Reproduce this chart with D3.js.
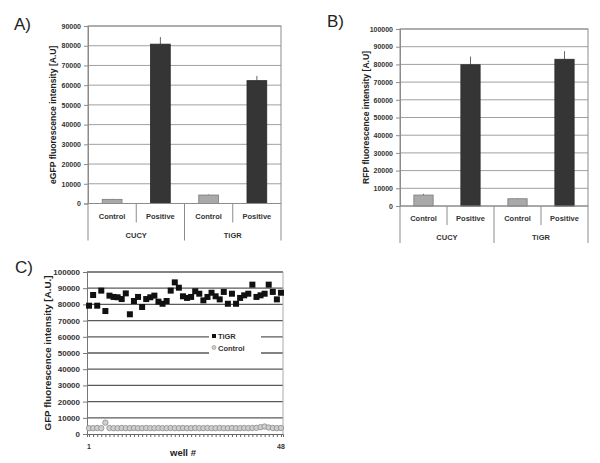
<!DOCTYPE html>
<html>
<head>
<meta charset="utf-8">
<script src="https://cdn.jsdelivr.net/npm/d3@7"></script>
<style>
  body { margin: 0; background: #fff; }
  text { font-family: "Liberation Sans", Arial, sans-serif; }
</style>
</head>
<body>
<svg id="fig"></svg>
<script>
// ---- data ----
const groups = ["CUCY", "TiGR"];
const conditions = ["Control", "Positive"];

const egfpMean = [2100, 80800, 4300, 62300];
const egfpErr = [250, 3600, 300, 2400];
const egfpTicks = [0, 10000, 20000, 30000, 40000, 50000, 60000, 70000, 80000, 90000];

const rfpMean = [6200, 79800, 4100, 82900];
const rfpErr = [700, 4600, 300, 4600];
const rfpTicks = [0, 10000, 20000, 30000, 40000, 50000, 60000, 70000, 80000, 90000, 100000];

const gfpTicks = [0, 10000, 20000, 30000, 40000, 50000, 60000, 70000, 80000, 90000, 100000];
const wells = d3.range(1, 49);
const wellLabels = [1, 48];
const tigr = [79200, 85800, 79200, 88500, 75900, 85400, 84600, 84400, 83300, 86800,
              73900, 82100, 84600, 78400, 83300, 84400, 85400, 81700, 80400, 82100,
              88500, 93600, 90300, 85000, 84000, 84600, 88100, 86600, 82500, 84600,
              87200, 85000, 83100, 87700, 80400, 86600, 80400, 84000, 85600, 86600,
              92200, 84600, 85600, 86600, 92200, 87700, 83100, 87200];
const control = [3600, 3600, 3700, 3600, 7000, 3700, 3600, 3600, 3700, 3600,
                 3600, 3700, 3600, 3600, 3700, 3600, 3600, 3700, 3600, 3600,
                 3700, 3600, 3600, 3700, 3600, 3600, 3700, 3600, 3600, 3700,
                 3600, 3600, 3700, 3600, 3600, 3700, 3600, 3600, 3700, 3600,
                 3700, 3800, 4200, 4600, 4000, 3700, 3600, 3700];

const svg = d3.select("#fig")
    .attr("width", 600)
    .attr("height", 463);

svg.append("rect").attr("width", 600).attr("height", 463).attr("fill", "#fff");

// ---- bar panels (A, B) ----
function barPanel(o) {
    const g = svg.append("g");
    const keys = [];
    groups.forEach(gr => conditions.forEach(c => keys.push(gr + "|" + c)));

    const x = d3.scaleBand().domain(keys).range([o.left, o.right]);
    const y = d3.scaleLinear().domain([0, d3.max(o.ticks)]).range([o.bottom, o.top]);

    // grid
    g.selectAll(".grid")
        .data(o.ticks.filter(t => t > 0))
        .join("line")
            .attr("x1", o.left).attr("x2", o.right)
            .attr("y1", d => y(d)).attr("y2", d => y(d))
            .attr("stroke", "#a0a0a0").attr("stroke-width", 1);

    g.append("rect")
        .attr("x", o.left).attr("y", o.top)
        .attr("width", o.right - o.left).attr("height", o.bottom - o.top)
        .attr("fill", "none").attr("stroke", "#8c8c8c");

    const yAxis = g.append("g")
        .attr("transform", `translate(${o.left},0)`)
        .call(d3.axisLeft(y).tickValues(o.ticks).tickSize(4).tickPadding(3).tickFormat(d3.format("d")));
    yAxis.selectAll("line, path").attr("stroke", "#8c8c8c");
    yAxis.selectAll("text")
        .attr("font-size", 7).attr("font-weight", "bold").attr("fill", "#333")
        .attr("font-family", "'Liberation Sans', Arial, sans-serif");

    const bw = x.bandwidth() * 0.41;
    const bars = g.selectAll(".bar")
        .data(keys.map((k, i) => ({ k, v: o.means[i], e: o.errs[i], c: k.split("|")[1] })))
        .join("g");

    // error bars (only the upper half shows above the bar)
    bars.append("line")
        .attr("x1", d => x(d.k) + x.bandwidth() / 2)
        .attr("x2", d => x(d.k) + x.bandwidth() / 2)
        .attr("y1", d => y(d.v))
        .attr("y2", d => y(d.v + d.e))
        .attr("stroke", "#666").attr("stroke-width", 1);

    bars.append("rect")
        .attr("x", d => x(d.k) + (x.bandwidth() - bw) / 2)
        .attr("y", d => y(d.v))
        .attr("width", bw)
        .attr("height", d => y(0) - y(d.v))
        .attr("fill", d => d.c === "Control" ? "#a9a9a9" : "#353535")
        .attr("stroke", d => d.c === "Control" ? "#7a7a7a" : "#2a2a2a")
        .attr("stroke-width", 0.8);

    // x axis line
    g.append("line")
        .attr("x1", o.left).attr("x2", o.right)
        .attr("y1", y(0)).attr("y2", y(0))
        .attr("stroke", "#8c8c8c");

    // separators below axis
    keys.forEach((k, i) => {
        const xl = x(k);
        const long = i % 2 === 0;
        g.append("line")
            .attr("x1", xl).attr("x2", xl)
            .attr("y1", y(0)).attr("y2", long ? y(0) + o.groupDrop : y(0) + o.condDrop)
            .attr("stroke", "#8c8c8c");
    });
    g.append("line")
        .attr("x1", o.right).attr("x2", o.right)
        .attr("y1", y(0)).attr("y2", y(0) + o.groupDrop)
        .attr("stroke", "#8c8c8c");

    g.selectAll(".clab")
        .data(keys)
        .join("text")
            .attr("x", d => x(d) + x.bandwidth() / 2)
            .attr("y", y(0) + o.condY)
            .attr("text-anchor", "middle")
            .attr("font-size", 7.5).attr("font-weight", "bold").attr("fill", "#333")
            .text(d => d.split("|")[1]);

    g.selectAll(".glab")
        .data(groups)
        .join("text")
            .attr("x", d => x(d + "|Control") + x.bandwidth())
            .attr("y", y(0) + o.groupY)
            .attr("text-anchor", "middle")
            .attr("font-size", 7.5).attr("font-weight", "bold").attr("fill", "#333")
            .text(d => d);

    g.append("text")
        .attr("transform", `translate(${o.ylabelX},${(o.top + o.bottom) / 2}) rotate(-90)`)
        .attr("text-anchor", "middle")
        .attr("font-size", 8.6).attr("font-weight", "bold").attr("fill", "#222")
        .text(o.ylabel);

    g.append("text")
        .attr("x", o.letterX).attr("y", o.letterY)
        .attr("font-size", 17).attr("fill", "#222")
        .text(o.letter);
}

barPanel({
    left: 88, right: 281, top: 26, bottom: 203.5,
    ticks: egfpTicks, means: egfpMean, errs: egfpErr,
    ylabel: "eGFP fluorescence intensity [A.U]", ylabelX: 56,
    letter: "A)", letterX: 14, letterY: 30,
    condDrop: 19, groupDrop: 37, condY: 15, groupY: 34
});

barPanel({
    left: 400, right: 588, top: 29, bottom: 206,
    ticks: rfpTicks, means: rfpMean, errs: rfpErr,
    ylabel: "RFP fluorescence intensity [A.U]", ylabelX: 369,
    letter: "B)", letterX: 327, letterY: 27,
    condDrop: 19, groupDrop: 37, condY: 15, groupY: 34
});

// ---- scatter panel (C) ----
(function () {
    const left = 87, right = 283, top = 272, bottom = 434;
    const g = svg.append("g");
    const x = d3.scalePoint().domain(wells).range([left, right]).padding(0.5);
    const y = d3.scaleLinear().domain([0, d3.max(gfpTicks)]).range([bottom, top]);

    g.selectAll(".grid")
        .data(gfpTicks.filter(t => t > 0))
        .join("line")
            .attr("x1", left).attr("x2", right)
            .attr("y1", d => y(d)).attr("y2", d => y(d))
            .attr("stroke", "#5a5a5a").attr("stroke-width", 1.3);

    g.append("line")
        .attr("x1", right).attr("x2", right).attr("y1", top).attr("y2", bottom)
        .attr("stroke", "#aaa");

    const yAxis = g.append("g")
        .attr("transform", `translate(${left},0)`)
        .call(d3.axisLeft(y).tickValues(gfpTicks).tickSize(4).tickPadding(3).tickFormat(d3.format("d")));
    yAxis.selectAll("line, path").attr("stroke", "#777");
    yAxis.selectAll("text")
        .attr("font-size", 8).attr("font-weight", "bold").attr("fill", "#333")
        .attr("font-family", "'Liberation Sans', Arial, sans-serif");

    const xAxis = g.append("g")
        .attr("transform", `translate(0,${bottom})`)
        .call(d3.axisBottom(x).tickSize(3).tickFormat(""));
    xAxis.selectAll("line, path").attr("stroke", "#666");

    g.selectAll(".wl")
        .data(wellLabels)
        .join("text")
            .attr("x", d => x(d))
            .attr("y", bottom + 15)
            .attr("text-anchor", "middle")
            .attr("font-size", 7).attr("font-weight", "bold").attr("fill", "#333")
            .text(d => d);

    g.append("text")
        .attr("x", (left + right) / 2 - 2).attr("y", 456)
        .attr("text-anchor", "middle")
        .attr("font-size", 9.5).attr("font-weight", "bold").attr("fill", "#222")
        .text("well #");

    g.append("text")
        .attr("transform", `translate(51,${(top + bottom) / 2}) rotate(-90)`)
        .attr("text-anchor", "middle")
        .attr("font-size", 9.8).attr("font-weight", "bold").attr("fill", "#222")
        .text("GFP fluorescence intensity [A.U.]");

    // legend background
    g.append("rect")
        .attr("x", 209).attr("y", 329).attr("width", 52).attr("height", 27)
        .attr("fill", "#fff");

    g.selectAll(".ctl")
        .data(wells)
        .join("circle")
            .attr("cx", d => x(d))
            .attr("cy", (d, i) => y(control[i]))
            .attr("r", 2.7)
            .attr("fill", "#cfcfcf").attr("stroke", "#8a8a8a").attr("stroke-width", 0.8);

    g.selectAll(".tg")
        .data(wells)
        .join("rect")
            .attr("x", d => x(d) - 3)
            .attr("y", (d, i) => y(tigr[i]) - 3)
            .attr("width", 6).attr("height", 6)
            .attr("fill", "#111");

    g.append("rect").attr("x", 212).attr("y", 334).attr("width", 4).attr("height", 4).attr("fill", "#111");
    g.append("text").attr("x", 218).attr("y", 339)
        .attr("font-size", 7.5).attr("font-weight", "bold").attr("fill", "#333").text("TiGR");
    g.append("circle").attr("cx", 214).attr("cy", 347.5).attr("r", 2)
        .attr("fill", "#cfcfcf").attr("stroke", "#8a8a8a").attr("stroke-width", 0.6);
    g.append("text").attr("x", 218).attr("y", 350.5)
        .attr("font-size", 7.5).attr("font-weight", "bold").attr("fill", "#333").text("Control");

    g.append("text")
        .attr("x", 15).attr("y", 273)
        .attr("font-size", 17).attr("fill", "#222")
        .text("C)");
})();
</script>
</body>
</html>
